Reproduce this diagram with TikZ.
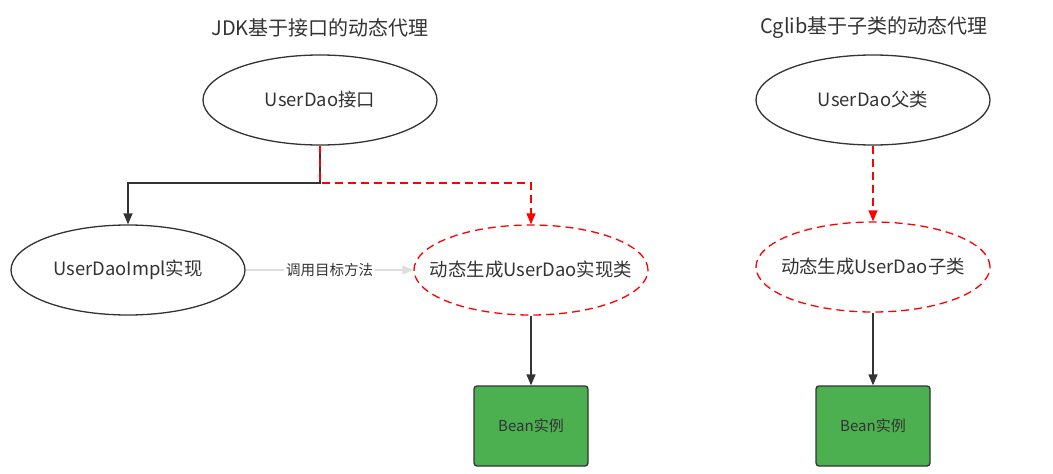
\documentclass[tikz,border=0pt]{standalone}
\usepackage{fontspec}
\setmainfont{Noto Sans CJK SC}
\usetikzlibrary{arrows.meta,shapes.geometric}
\definecolor{txt}{HTML}{333333}
\definecolor{edge}{HTML}{333333}
\definecolor{beanfill}{HTML}{4CAF50}
\definecolor{redline}{HTML}{FF0000}
\definecolor{grayline}{HTML}{DDDDDD}
\newcommand{\fixw}[1]{\makebox[0pt][c]{#1}}
\begin{document}
\begin{tikzpicture}[x=1pt,y=-1pt,
  title/.style={text=txt,font=\fontsize{20}{24}\selectfont,inner sep=0},
  ell/.style={ellipse,draw=edge,line width=1.3pt,minimum width=234pt,minimum height=90pt,inner sep=0,text=txt,font=\fontsize{18.4}{22}\selectfont},
  dyn/.style={ell,draw=redline,dash pattern=on 8pt off 5pt},
  bean/.style={draw=edge,line width=1.3pt,fill=beanfill,rounded corners=3pt,minimum width=114pt,minimum height=80pt,inner sep=0,text=txt,font=\fontsize{15}{18}\selectfont},
  arr/.style={draw=edge,line width=1.3pt,-{Triangle[width=9pt,length=11pt]}},
  redarr/.style={draw=redline,line width=1.3pt,dash pattern=on 8pt off 5pt,-{Triangle[width=9pt,length=11pt]}},
  grayarr/.style={draw=grayline,line width=1.3pt,-{Triangle[width=9pt,length=11pt]}}
]
\useasboundingbox (0,0) rectangle (1053,474);
% left part
\node[title] (t1) at (320,28) {JDK基于接口的动态代理};
\node[ell] (iface) at (320,100) {\fixw{UserDao接口}};
\node[ell] (impl) at (128,270) {\fixw{UserDaoImpl实现}};
\node[dyn] (dyn1) at (531,270) {\fixw{动态生成UserDao实现类}};
\node[bean] (bean1) at (531,426) {Bean实例};
\coordinate (j) at (320,183);
\draw[arr] (iface.south) -- (j) -| (impl.north);
\draw[redarr] (iface.south) -- (j) -| (dyn1.north);
\draw[grayarr] (impl.east) -- node[fill=white,text=txt,font=\fontsize{14.5}{17}\selectfont,inner sep=2pt] (lbl) {调用目标方法} (dyn1.west);
\draw[arr] (dyn1.south) -- (bean1.north);
% right part
\node[title] (t2) at (874,28) {Cglib基于子类的动态代理};
\node[ell] (parent) at (873,100) {\fixw{UserDao父类}};
\node[dyn] (dyn2) at (873,267) {\fixw{动态生成UserDao子类}};
\node[bean] (bean2) at (873,426) {Bean实例};
\draw[redarr] (parent.south) -- (dyn2.north);
\draw[arr] (dyn2.south) -- (bean2.north);
\end{tikzpicture}
\end{document}
